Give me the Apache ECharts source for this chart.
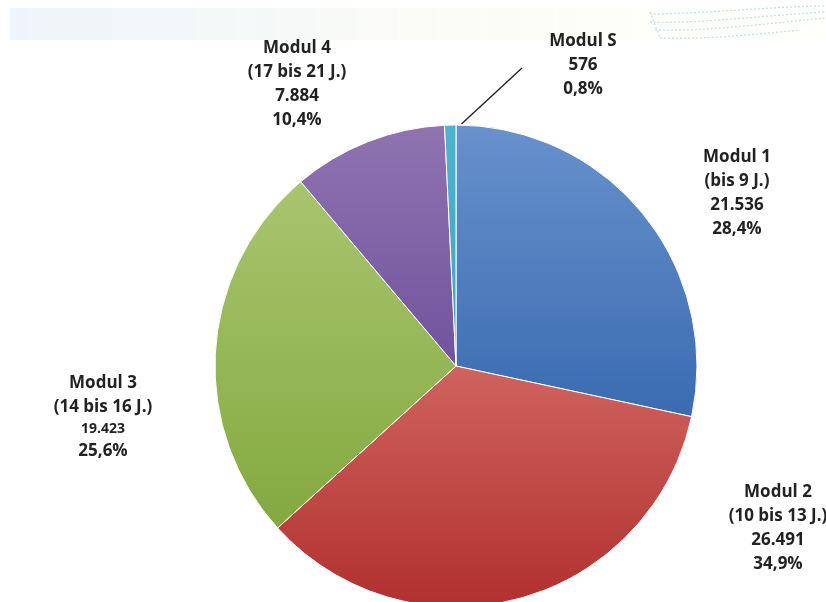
<!DOCTYPE html>
<html><head><meta charset="utf-8">
<script src="https://cdn.jsdelivr.net/npm/echarts@6/dist/echarts.min.js"></script>
<style>html,body{margin:0;padding:0;background:#fff}#c{width:826px;height:602px}</style>
</head><body><div id="c"></div>
<script>
const names = ['Modul 1', 'Modul 2', 'Modul 3', 'Modul 4', 'Modul S'];
const subtitles = ['(bis 9 J.)', '(10 bis 13 J.)', '(14 bis 16 J.)', '(17 bis 21 J.)', ''];
const values = [21536, 26491, 19423, 7884, 576];
const colorsTop = ['#6891CD', '#D0635F', '#A8C56E', '#8F74B1', '#4FB3CE'];
const colorsBottom = ['#3A6BB0', '#B0302E', '#84A940', '#70539C', '#3FA3BE'];
const labelPos = [[737, 193], [778, 528], [103, 417], [297, 84], [583, 65]];
const CX = 456, CY = 366, R = 241;

const chart = echarts.init(document.getElementById('c'));
const total = values.reduce((a, b) => a + b, 0);
function fmtNum(v) { return String(v).replace(/\B(?=(\d{3})+(?!\d))/g, '.'); }
function fmtPct(v) { return (v / total * 100).toFixed(1).replace('.', ',') + '%'; }

const data = values.map((v, i) => ({
  name: names[i],
  value: v,
  itemStyle: {
    color: {
      type: 'linear', x: 0, y: 0, x2: 0, y2: 1,
      colorStops: [{offset: 0, color: colorsTop[i]}, {offset: 1, color: colorsBottom[i]}]
    }
  }
}));

// leader line for the small slice: from the rim (just right of 12 o'clock) toward its label
const leadAngle = 1.3 * Math.PI / 180;
const leadStart = [CX + R * Math.sin(leadAngle), CY - R * Math.cos(leadAngle) - 1];
const leadEnd = [labelPos[4][0] - 61, labelPos[4][1] + 3];

chart.setOption({
  animation: false,
  graphic: [
    { type: 'rect', shape: { x: 10, y: 8, width: 816, height: 32 }, silent: true,
      style: { fill: { type: 'linear', x: 0, y: 0, x2: 1, y2: 0,
        colorStops: [{offset: 0, color: 'rgba(225,235,245,0.55)'}, {offset: 0.6, color: 'rgba(250,250,240,0.5)'}, {offset: 1, color: 'rgba(255,255,245,0.3)'}] } } },
    { type: 'bezierCurve', shape: { x1: 650, y1: 14, x2: 826, y2: 6, cpx1: 700, cpy1: 14, cpx2: 780, cpy2: 6 }, silent: true, style: { stroke: '#bfe0ee', lineDash: [2, 2], lineWidth: 1.2 } },
    { type: 'bezierCurve', shape: { x1: 650, y1: 22, x2: 826, y2: 12, cpx1: 700, cpy1: 24, cpx2: 780, cpy2: 14 }, silent: true, style: { stroke: '#bfe0ee', lineDash: [2, 2], lineWidth: 1.2 } },
    { type: 'bezierCurve', shape: { x1: 655, y1: 30, x2: 826, y2: 18, cpx1: 705, cpy1: 32, cpx2: 780, cpy2: 22 }, silent: true, style: { stroke: '#bfe0ee', lineDash: [2, 2], lineWidth: 1.2 } },
    { type: 'bezierCurve', shape: { x1: 660, y1: 38, x2: 800, y2: 30, cpx1: 700, cpy1: 40, cpx2: 760, cpy2: 34 }, silent: true, style: { stroke: '#bfe0ee', lineDash: [2, 2], lineWidth: 1.2 } },
    { type: 'line', shape: { x1: 650, y1: 12, x2: 660, y2: 38 }, silent: true, style: { stroke: '#bfe0ee', lineDash: [2, 2], lineWidth: 1.2 } },
    { type: 'line', z: 10, silent: true, shape: { x1: leadStart[0], y1: leadStart[1], x2: leadEnd[0], y2: leadEnd[1] }, style: { stroke: '#222', lineWidth: 1.4 } }
  ],
  series: [{
    type: 'pie',
    center: [CX, CY],
    radius: [0, R],
    startAngle: 90,
    clockwise: true,
    data: data,
    itemStyle: { borderColor: '#fff', borderWidth: 1 },
    label: {
      show: true,
      position: 'outside',
      align: 'center',
      color: '#222',
      formatter: function (p) {
        const i = p.dataIndex;
        const lines = ['{b|' + names[i] + '}'];
        if (subtitles[i]) lines.push('{b|' + subtitles[i] + '}');
        lines.push((i === 2 ? '{s|' : '{b|') + fmtNum(values[i]) + '}');
        lines.push('{b|' + fmtPct(values[i]) + '}');
        return lines.join('\n');
      },
      rich: {
        b: { fontFamily: 'Open Sans', fontWeight: 'bold', fontSize: 17, lineHeight: 24, color: '#222', align: 'center' },
        s: { fontFamily: 'Open Sans', fontWeight: 'bold', fontSize: 14, lineHeight: 20, color: '#222', align: 'center' }
      }
    },
    labelLine: { show: false },
    labelLayout: function (p) {
      const pos = labelPos[p.dataIndex];
      return { x: pos[0], y: pos[1], align: 'center', verticalAlign: 'middle' };
    }
  }]
});
</script></body></html>
